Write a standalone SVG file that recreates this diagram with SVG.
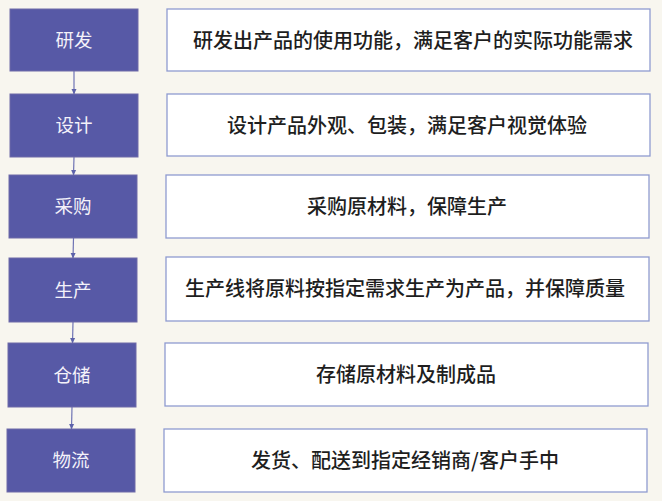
<svg xmlns="http://www.w3.org/2000/svg" width="662" height="501" viewBox="0 0 662 501">
<defs>
<style>
.step{fill:#5759a6;stroke:#6e6aa8;stroke-width:1}
.lbl{font-family:"Noto Sans CJK SC","Noto Sans",sans-serif;font-size:18.5px;fill:#f4f2fa;text-anchor:middle}
.desc{fill:#ffffff;stroke:#8f9bd0;stroke-width:1.3}
.txt{font-family:"Noto Sans CJK SC","Noto Sans",sans-serif;font-size:20px;font-weight:500;fill:#1e1e1e;text-anchor:middle}
.conn{stroke:#6f74b4;stroke-width:1.2;fill:none}
</style>
<marker id="ah" markerWidth="6" markerHeight="6" refX="5" refY="3" orient="auto" markerUnits="userSpaceOnUse">
<path d="M0,0.5 L5.5,3 L0,5.5 Z" fill="#5d62aa"/>
</marker>
</defs>
<rect x="0" y="0" width="662" height="501" fill="#f8f6ef"/>
<g id="connectors">
<line class="conn" x1="74" y1="71" x2="74" y2="94" marker-end="url(#ah)"/>
<line class="conn" x1="74" y1="157" x2="73.5" y2="175" marker-end="url(#ah)"/>
<line class="conn" x1="73.5" y1="238" x2="73" y2="258" marker-end="url(#ah)"/>
<line class="conn" x1="73" y1="322" x2="72.5" y2="343" marker-end="url(#ah)"/>
<line class="conn" x1="72" y1="407" x2="71.5" y2="429" marker-end="url(#ah)"/>
</g>
<g id="node-yanfa">
<rect class="step" x="10" y="9" width="128" height="62"/>
<text class="lbl" x="74" y="46.5">研发</text>
<rect class="desc" x="167" y="9" width="483" height="62"/>
<text class="txt" x="413" y="47.5">研发出产品的使用功能，满足客户的实际功能需求</text>
</g>
<g id="node-sheji">
<rect class="step" x="10" y="94" width="128" height="63"/>
<text class="lbl" x="74" y="132">设计</text>
<rect class="desc" x="167" y="94" width="483" height="62"/>
<text class="txt" x="407" y="132.5">设计产品外观、包装，满足客户视觉体验</text>
</g>
<g id="node-caigou">
<rect class="step" x="9" y="175" width="128" height="63"/>
<text class="lbl" x="73" y="213">采购</text>
<rect class="desc" x="166" y="175" width="483" height="63"/>
<text class="txt" x="407" y="214">采购原材料，保障生产</text>
</g>
<g id="node-shengchan">
<rect class="step" x="9" y="258" width="128" height="64"/>
<text class="lbl" x="73" y="296.5">生产</text>
<rect class="desc" x="166" y="257" width="483" height="64"/>
<text class="txt" x="405" y="296">生产线将原料按指定需求生产为产品，并保障质量</text>
</g>
<g id="node-cangchu">
<rect class="step" x="8" y="343" width="128" height="64"/>
<text class="lbl" x="72" y="381.5">仓储</text>
<rect class="desc" x="165" y="343" width="483" height="63"/>
<text class="txt" x="406" y="382">存储原材料及制成品</text>
</g>
<g id="node-wuliu">
<rect class="step" x="7" y="429" width="128" height="63"/>
<text class="lbl" x="71" y="467">物流</text>
<rect class="desc" x="164" y="429" width="483" height="63"/>
<text class="txt" x="405" y="468">发货、配送到指定经销商/客户手中</text>
</g>
</svg>
